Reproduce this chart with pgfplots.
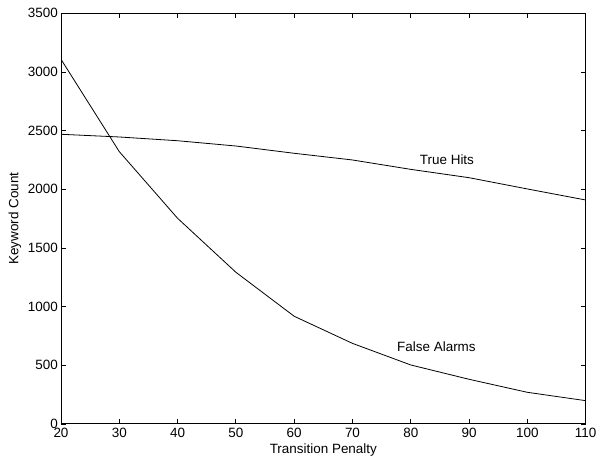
\documentclass[border=0pt]{standalone}
\usepackage{fontspec}
\setmainfont{Liberation Sans}
\usepackage{pgfplots}
\pgfplotsset{compat=1.18}
\begin{document}
\begin{tikzpicture}
\useasboundingbox (0,0) rectangle (599bp,461bp);
\begin{axis}[
    at={(61bp,37bp)}, anchor=south west,
    scale only axis,
    width=524.7bp, height=410.7bp,
    xmin=20, xmax=110, ymin=0, ymax=3500,
    xtick={20,30,...,110},
    ytick={0,500,...,3500},
    tick align=inside,
    major tick length=5bp,
    axis line style={line width=1bp},
    every tick/.style={black, line width=0.8bp},
    font=\fontsize{13.5}{16}\selectfont,
    /pgf/number format/assume math mode=true,
    /pgf/number format/1000 sep={},
    xticklabel style={inner sep=1bp, yshift=-3bp},
    yticklabel style={inner sep=1bp, xshift=-2bp},
    xlabel={Transition Penalty},
    ylabel={Keyword Count},
    xlabel style={at={(axis description cs:0.5,-0.063)}, anchor=center},
    ylabel style={at={(axis description cs:-0.088,0.5)}, anchor=center},
]
\addplot[black, line width=0.8bp] coordinates {
    (20,2469) (30,2446) (40,2414) (50,2369) (60,2307)
    (70,2250) (80,2170) (90,2099) (100,2003) (110,1909)
};
\addplot[black, line width=0.8bp] coordinates {
    (20,3108) (30,2321) (40,1753) (50,1293) (60,918)
    (70,687) (80,503) (90,381) (100,270) (110,199)
};
\node[font=\fontsize{13.5}{16}\selectfont] at (axis cs:86.2,2250) {True Hits};
\node[font=\fontsize{13.5}{16}\selectfont] at (axis cs:84.4,659) {False Alarms};
\end{axis}
\end{tikzpicture}
\end{document}
